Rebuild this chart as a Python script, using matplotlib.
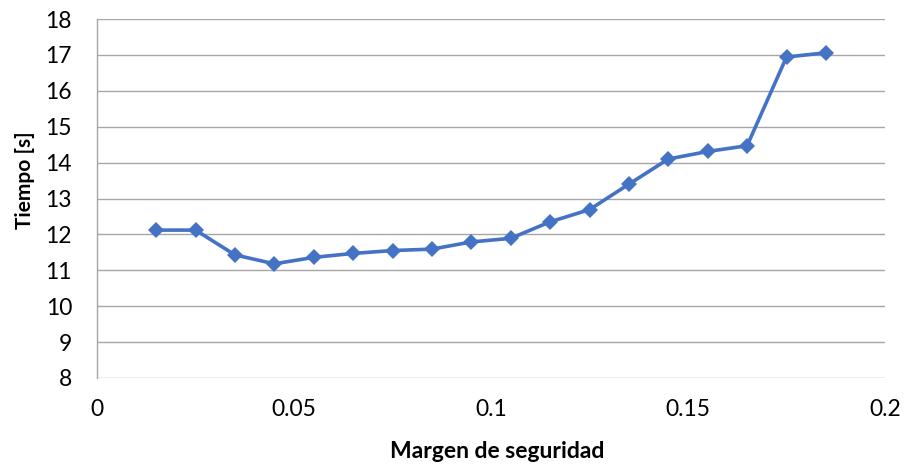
import matplotlib
matplotlib.use("Agg")
import matplotlib.pyplot as plt

margen = [0.015, 0.025, 0.035, 0.045, 0.055, 0.065, 0.075, 0.085, 0.095,
          0.105, 0.115, 0.125, 0.135, 0.145, 0.155, 0.165, 0.175, 0.185]
tiempo = [12.12, 12.12, 11.43, 11.18, 11.36, 11.47, 11.55, 11.59, 11.79,
          11.89, 12.35, 12.69, 13.40, 14.10, 14.31, 14.47, 16.94, 17.06]
x_ticks = [0, 0.05, 0.1, 0.15, 0.2]
x_tick_labels = ["0", "0.05", "0.1", "0.15", "0.2"]
y_ticks = list(range(8, 19))
x_label = "Margen de seguridad"
y_label = "Tiempo [s]"

plt.rcParams['font.family'] = ['Lato', 'DejaVu Sans']

fig = plt.figure(figsize=(9.05, 4.67), dpi=100)
ax = fig.add_axes([97/905, 1-378/467, 788/905, 359/467])

ax.plot(margen, tiempo, color='#4472C4', linewidth=2.6, marker='D',
        markersize=8.5, markeredgewidth=0, zorder=3)

ax.set_xlim(0, 0.2)
ax.set_ylim(8, 18)
ax.set_xticks(x_ticks)
ax.set_xticklabels(x_tick_labels)
ax.set_yticks(y_ticks)

ax.grid(axis='y', color='#A6A6A6', linewidth=1.0, zorder=0)
for s in ['top', 'right', 'bottom']:
    ax.spines[s].set_visible(False)
ax.spines['left'].set_color('#A6A6A6')
ax.spines['left'].set_linewidth(1.0)

ax.tick_params(axis='both', length=0, labelsize=16.5, colors='black')
ax.tick_params(axis='y', pad=18)
ax.tick_params(axis='x', pad=15)

ax.set_xlabel(x_label, fontsize=16.5, fontweight='bold')
ax.set_ylabel(y_label, fontsize=15, fontweight='bold')
ax.xaxis.set_label_coords(0.508, -0.206)
ax.xaxis.label.set_va('center')
ax.yaxis.set_label_coords(-0.092, 0.552)
ax.yaxis.label.set_va('center')

fig.savefig('out.png', dpi=100)
